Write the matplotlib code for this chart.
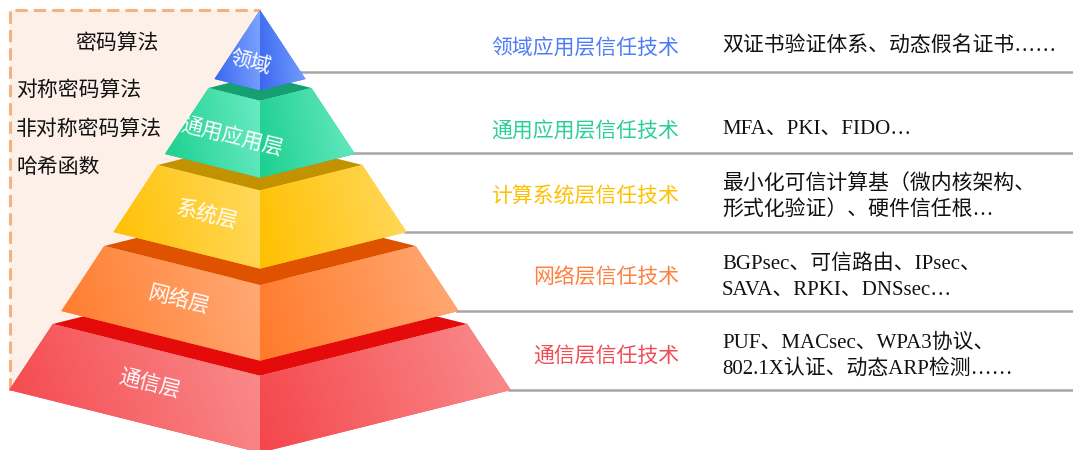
"""Trust technology pyramid with a crypto-algorithm side panel."""

import matplotlib
matplotlib.use("Agg")
import matplotlib.pyplot as plt
import numpy as np
from matplotlib.colors import to_rgb
from matplotlib.patches import Polygon, Rectangle

# ---- content -------------------------------------------------------------
layer_names = ["领域", "通用应用层", "系统层", "网络层", "通信层"]
trust_labels = ["领域应用层信任技术", "通用应用层信任技术", "计算系统层信任技术",
                "网络层信任技术", "通信层信任技术"]
tech_lines = [
    ["双证书验证体系、动态假名证书……"],
    ["MFA、PKI、FIDO…"],
    ["最小化可信计算基（微内核架构、", "形式化验证）、硬件信任根…"],
    ["BGPsec、可信路由、IPsec、", "SAVA、RPKI、DNSsec…"],
    ["PUF、MACsec、WPA3协议、", "802.1X认证、动态ARP检测……"],
]
crypto_title = "密码算法"
crypto_items = ["对称密码算法", "非对称密码算法", "哈希函数"]

# ---- styling / layout (pixel coordinates) --------------------------------
face_dark = ["#3A66F0", "#1BCF8F", "#FFC000", "#FF7A2A", "#F4464C"]
face_light = ["#7CA5FF", "#6BEBC3", "#FFDA60", "#FFAB78", "#FA8E8E"]
top_colors = [None, "#14A070", "#C29200", "#DF5200", "#E50B0B"]
label_colors = ["#4D7CF8", "#2ACF95", "#FFC000", "#FF7F3F", "#F24B55"]

cx, apex_y, slope, dip = 260, 10, 0.66, 0.25
layer_top = [10, 88, 165, 246, 324]
layer_bot = [79, 154, 232, 311, 390]
name_pos = [(251, 62), (232, 138), (207, 214), (178, 300), (150, 384)]
label_y = [49, 132, 197, 277, 356]
line_y = [72, 153, 232, 311, 390]
line_gap = 26

CJK = ["Noto Sans CJK SC", "DejaVu Sans"]
MIXED = ["Liberation Serif", "Noto Sans CJK SC", "DejaVu Sans"]

fig = plt.figure(figsize=(10.73, 4.5), dpi=100)
ax = fig.add_axes([0, 0, 1, 1])


def hw(y):
    return (y - apex_y) * slope


def grad_face(pts, c0, c1, z):
    poly = Polygon(pts, closed=True, facecolor=c0, edgecolor="none", zorder=z)
    ax.add_patch(poly)
    xs, ys = zip(*pts)
    u = np.linspace(0, 1, 200)[None, :]
    v = np.linspace(0, 1, 120)[:, None]
    t = np.clip(0.85 * u + 0.15 * (1 - v), 0, 1)
    rgb = (1 - t)[..., None] * np.array(to_rgb(c0)) + t[..., None] * np.array(to_rgb(c1))
    im = ax.imshow(rgb, extent=(min(xs), max(xs), max(ys), min(ys)), origin="upper",
                   interpolation="bilinear", zorder=z + 0.1, aspect="auto")
    im.set_clip_path(poly)


# dashed side panel
ax.add_patch(Rectangle((10, 10), cx - 10, 380, facecolor="#FDF0E8", edgecolor="none", zorder=0))
ax.plot([10, 10, cx], [390, 10, 10], color="#F4B183", lw=2.2, ls=(0, (4, 2)), zorder=0.5)
ax.text(117, 43, crypto_title, fontsize=15, family=CJK, ha="center", va="center", color="#111111")
for i, item in enumerate(crypto_items):
    ax.text(16, 90 + i * 38.5, item, fontsize=15, family=CJK, ha="left", va="center", color="#111111")

# separator lines on the right
for i, y in enumerate(line_y):
    ax.plot([cx + hw(y) - 2, 1073], [y, y], color="#A6A6A6", lw=1.8, zorder=1)

# pyramid layers, drawn bottom to top
for i in reversed(range(len(layer_names))):
    z = 10 + (len(layer_names) - i) * 2
    yt, yb = layer_top[i], layer_bot[i]
    wt, wb = hw(yt), hw(yb)
    if top_colors[i]:
        ax.add_patch(Polygon([(cx - wt, yt), (cx, yt - dip * wt), (cx + wt, yt), (cx, yt + dip * wt)],
                             closed=True, facecolor=top_colors[i], edgecolor="none", zorder=z))
    left = [(cx - wt, yt), (cx, yt + dip * wt), (cx, yb + dip * wb), (cx - wb, yb)]
    right = [(cx, yt + dip * wt), (cx + wt, yt), (cx + wb, yb), (cx, yb + dip * wb)]
    grad_face(left, face_dark[i], face_light[i], z + 0.2)
    grad_face(right, face_dark[i], face_light[i], z + 0.2)
    nx, ny = name_pos[i]
    ax.text(nx, ny, layer_names[i], fontsize=15, family=CJK, color="white",
            rotation=-14, ha="center", va="center", rotation_mode="anchor", zorder=40)

# right-hand labels and technology lists
for i, lab in enumerate(trust_labels):
    ax.text(679, label_y[i], lab, fontsize=15, family=CJK, color=label_colors[i],
            ha="right", va="center", zorder=5)
    lines = tech_lines[i]
    y0 = label_y[i] - (len(lines) - 1) * line_gap / 2 - (3 if len(lines) == 1 else 0)
    for k, txt in enumerate(lines):
        ax.text(722, y0 + k * line_gap, txt, fontsize=15, family=MIXED, color="#111111",
                ha="left", va="center", zorder=5)

ax.set_xlim(0, 1073)
ax.set_ylim(450, 0)
ax.axis("off")
fig.savefig("out.png", dpi=100, facecolor="white")
